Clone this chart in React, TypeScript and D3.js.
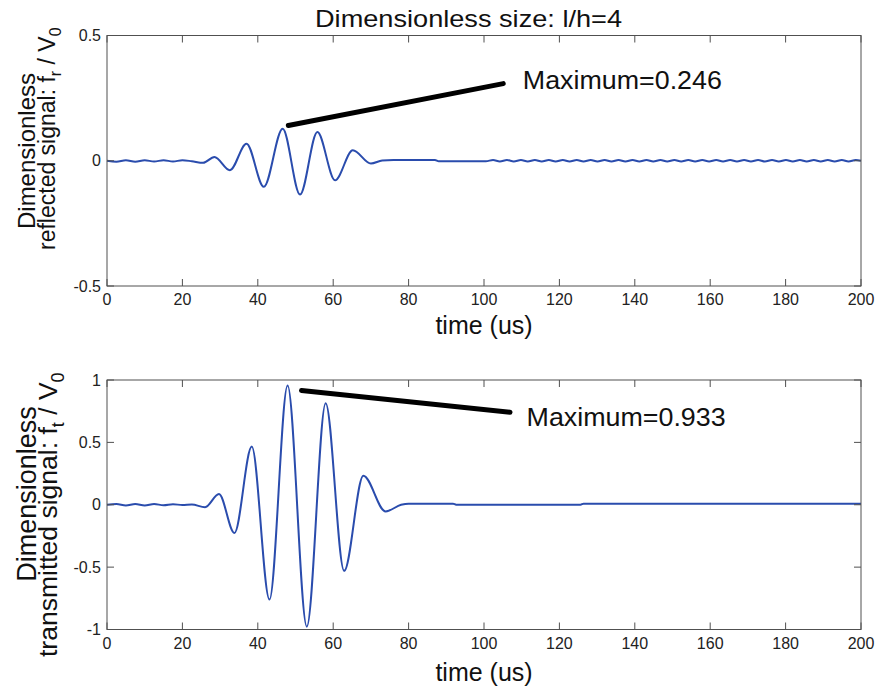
import React from "react";
import * as d3 from "d3";

// ---------- data ----------
const xTicks = [0, 20, 40, 60, 80, 100, 120, 140, 160, 180, 200];
const topYTicks = [-0.5, 0, 0.5];
const topYTickLabels = ["-0.5", "0", "0.5"];
const botYTicks = [-1, -0.5, 0, 0.5, 1];
const botYTickLabels = ["-1", "-0.5", "0", "0.5", "1"];

// reflected signal (top)
const topTimes = [0, 2.5, 5, 7.5, 10, 12.5, 15, 17.5, 20, 22.5, 25.5, 28.5, 32.6, 37, 41.6, 46.6, 51.2, 55.8, 60.5, 65.2, 70, 73, 76, 87, 88, 100.5];
const topValues = [0, -0.004, 0.002, -0.004, 0.002, -0.003, 0.002, -0.003, 0.002, -0.002, -0.008, 0.015, -0.038, 0.068, -0.104, 0.128, -0.135, 0.115, -0.078, 0.042, -0.011, 0.001, 0.003, 0.003, -0.002, -0.002];
const topRippleTimes = [102.4, 104.2, 106.1, 107.9, 109.8, 111.6, 113.5, 115.3, 117.2, 119, 120.9, 122.7, 124.6, 126.4, 128.3, 130.1, 132, 133.8, 135.7, 137.5, 139.4, 141.2, 143.1, 144.9, 146.8, 148.6, 150.5, 152.3, 154.2, 156, 157.9, 159.7, 161.6, 163.4, 165.3, 167.1, 169, 170.8, 172.7, 174.5, 176.4, 178.2, 180.1, 181.9, 183.8, 185.6, 187.5, 189.3, 191.2, 193, 194.9, 196.7, 198.6, 200];
const topRippleValues = [0.003, -0.003, 0.003, -0.003, 0.003, -0.003, 0.003, -0.003, 0.003, -0.003, 0.003, -0.003, 0.003, -0.003, 0.003, -0.003, 0.003, -0.003, 0.003, -0.003, 0.003, -0.003, 0.003, -0.003, 0.003, -0.003, 0.003, -0.003, 0.003, -0.003, 0.003, -0.003, 0.003, -0.003, 0.003, -0.003, 0.003, -0.003, 0.003, -0.003, 0.003, -0.003, 0.003, -0.003, 0.003, -0.003, 0.003, -0.003, 0.003, -0.003, 0.003, -0.003, 0.003, 0.0];

// transmitted signal (bottom)
const botTimes = [0, 2.5, 5, 7.5, 10, 12.5, 15, 17.5, 20, 22.5, 26, 29.7, 33.8, 38.4, 43.1, 47.9, 53, 58, 62.9, 68, 73.9, 78, 80, 91.8, 92.6, 125.6, 126.4, 200];
const botValues = [0, 0.006, -0.006, 0.006, -0.006, 0.006, -0.004, 0.004, -0.002, 0.002, -0.02, 0.086, -0.227, 0.466, -0.76, 0.955, -0.977, 0.814, -0.53, 0.233, -0.054, 0.0, 0.009, 0.009, 0.001, 0.001, 0.009, 0.009];

// annotations (data coordinates)
const topAnno = { t0: 48.1, v0: 0.141, t1: 105.1, v1: 0.308, tt: 110.3, tv: 0.288, text: "Maximum=0.246" };
const botAnno = { t0: 51.6, v0: 0.916, t1: 106.9, v1: 0.741, tt: 111.3, tv: 0.635, text: "Maximum=0.933" };

// ---------- layout ----------
const W = 879;
const H = 690;
const FONT = "'Liberation Sans', Arial, Helvetica, sans-serif";
const LINE = "#2a4cad";
const AXIS = "#505050";

const x = d3.scaleLinear().domain([0, 200]).range([107, 861]);
const yTop = d3.scaleLinear().domain([-0.5, 0.5]).range([286, 35.5]);
const yBot = d3.scaleLinear().domain([-1, 1]).range([629.5, 380]);

function Panel({ y, yTicks, yLabels, times, values, anno, xlabelY }) {
  const [y0, y1] = y.range();
  const [x0, x1] = x.range();
  const pts = times.map((t, i) => [t, values[i]]);
  const line = d3
    .line()
    .x((d) => x(d[0]))
    .y((d) => y(d[1]))
    .curve(d3.curveMonotoneX);
  const tl = 7;
  return (
    <g>
      <path d={line(pts) || ""} fill="none" stroke={LINE} strokeWidth={2} strokeLinejoin="round" />
      <rect x={x0} y={y1} width={x1 - x0} height={y0 - y1} fill="none" stroke={AXIS} strokeWidth={1} />
      {xTicks.map((t) => (
        <g key={"xt" + t}>
          <line x1={x(t)} x2={x(t)} y1={y0} y2={y0 - tl} stroke={AXIS} />
          <line x1={x(t)} x2={x(t)} y1={y1} y2={y1 + tl} stroke={AXIS} />
          <text x={x(t)} y={y0 + 19} textAnchor="middle" fontSize={16} fill="#222" fontFamily={FONT}>
            {t}
          </text>
        </g>
      ))}
      {yTicks.map((v, i) => (
        <g key={"yt" + v}>
          <line x1={x0} x2={x0 + tl} y1={y(v)} y2={y(v)} stroke={AXIS} />
          <line x1={x1} x2={x1 - tl} y1={y(v)} y2={y(v)} stroke={AXIS} />
          <text x={101} y={y(v)} dy="0.35em" textAnchor="end" fontSize={16} fill="#222" fontFamily={FONT}>
            {yLabels[i]}
          </text>
        </g>
      ))}
      <line
        x1={x(anno.t0)}
        y1={y(anno.v0)}
        x2={x(anno.t1)}
        y2={y(anno.v1)}
        stroke="#000"
        strokeWidth={5}
        strokeLinecap="round"
      />
      <text
        x={x(anno.tt)}
        y={y(anno.tv)}
        fontSize={25}
        fill="#111"
        fontFamily={FONT}
        textLength={199}
        lengthAdjust="spacingAndGlyphs"
      >
        {anno.text}
      </text>
      <text x={(x0 + x1) / 2} y={xlabelY} textAnchor="middle" fontSize={25} fill="#111" fontFamily={FONT}>
        time (us)
      </text>
    </g>
  );
}

export default function App() {
  const topPts = { times: topTimes.concat(topRippleTimes), values: topValues.concat(topRippleValues) };
  return (
    <svg width={W} height={H} style={{ position: "absolute", left: 0, top: 0, background: "#fff" }}>
      <rect width={W} height={H} fill="#fff" />
      <text
        x={468.5}
        y={27}
        textAnchor="middle"
        fontSize={24}
        fill="#111"
        fontFamily={FONT}
        textLength={307}
        lengthAdjust="spacingAndGlyphs"
      >
        Dimensionless size: l/h=4
      </text>
      <Panel
        y={yTop}
        yTicks={topYTicks}
        yLabels={topYTickLabels}
        times={topPts.times}
        values={topPts.values}
        anno={topAnno}
        xlabelY={334}
      />
      <Panel
        y={yBot}
        yTicks={botYTicks}
        yLabels={botYTickLabels}
        times={botTimes}
        values={botValues}
        anno={botAnno}
        xlabelY={681}
      />
      {/* top y label */}
      <text transform="translate(35,151) rotate(-90)" textAnchor="middle" fontSize={24} fill="#111" fontFamily={FONT}>
        Dimensionless
      </text>
      <text transform="translate(55,250) rotate(-90)" textAnchor="start" fontSize={23} fill="#111" fontFamily={FONT}>
        reflected signal: f
        <tspan fontSize={16} dy={6}>r</tspan>
        <tspan dy={-6}> / V</tspan>
        <tspan fontSize={16} dy={6}>0</tspan>
      </text>
      {/* bottom y label */}
      <text transform="translate(36,494) rotate(-90)" textAnchor="middle" fontSize={27} fill="#111" fontFamily={FONT}>
        Dimensionless
      </text>
      <text transform="translate(57,657) rotate(-90)" textAnchor="start" fontSize={26.5} fill="#111" fontFamily={FONT}>
        transmitted signal: f
        <tspan fontSize={18} dy={7}>t</tspan>
        <tspan dy={-7}> / V</tspan>
        <tspan fontSize={18} dy={7}>0</tspan>
      </text>
    </svg>
  );
}
